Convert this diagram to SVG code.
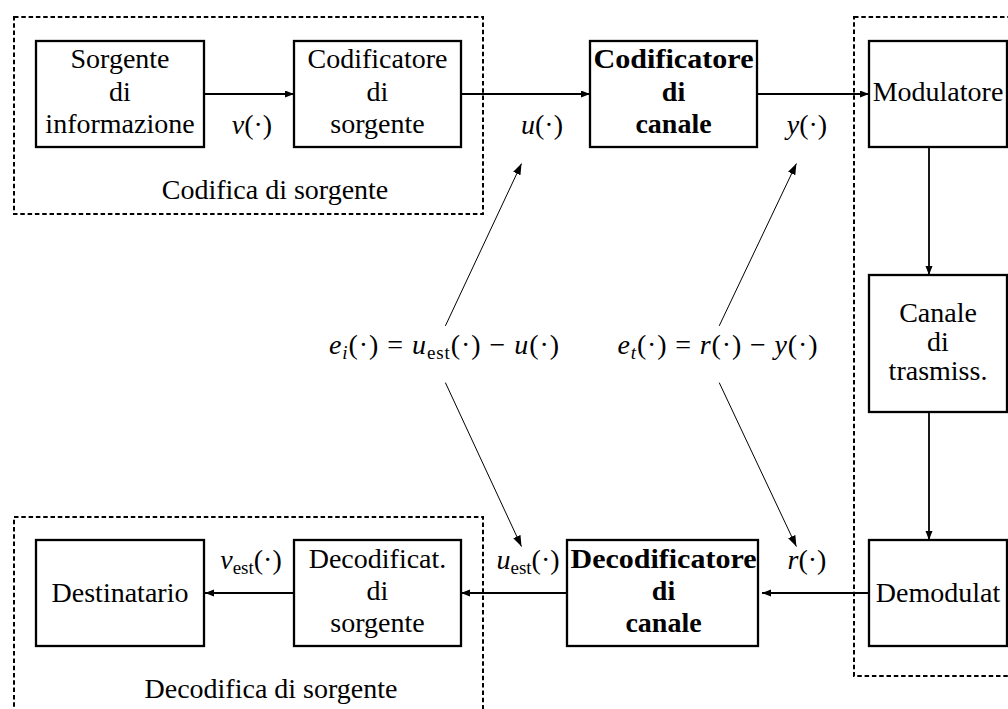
<svg xmlns="http://www.w3.org/2000/svg" width="1008" height="709" viewBox="0 0 1008 709">
<style>
text{font-family:'Liberation Serif','DejaVu Serif',serif;font-size:28px;fill:#000;text-anchor:middle}
.b{font-weight:bold}
.m{font-style:italic}
.box{fill:#fff;stroke:#000;stroke-width:2.3}
.dash{fill:none;stroke:#000;stroke-width:2;stroke-dasharray:4.5,2.8}
.c{fill:none;stroke:#000;stroke-width:1.8}
.d{fill:none;stroke:#000;stroke-width:1}
</style>
<defs>
<marker id="ah" markerUnits="userSpaceOnUse" markerWidth="10" markerHeight="8" refX="9" refY="3.5" orient="auto"><path d="M0,0 L9,3.5 L0,7 z" fill="#000"/></marker>
<marker id="ad" markerUnits="userSpaceOnUse" markerWidth="12" markerHeight="9" refX="11" refY="4" orient="auto"><path d="M0,0 L11,4 L0,8 z" fill="#000"/></marker>
</defs>
<g id="groups">
<rect class="dash" x="14" y="17" width="469" height="197"/>
<text x="275" y="199">Codifica di sorgente</text>
<rect class="dash" x="854" y="17" width="200" height="659"/>
<rect class="dash" x="14" y="517" width="469" height="250"/>
<text x="271" y="698">Decodifica di sorgente</text>
</g>
<g id="connectors">
<path class="c" d="M204,94 H294" marker-end="url(#ah)"/>
<path class="c" d="M461,94 H590" marker-end="url(#ah)"/>
<path class="c" d="M757,94 H869" marker-end="url(#ah)"/>
<path class="c" d="M929,147 V275" marker-end="url(#ah)"/>
<path class="c" d="M929,412 V540" marker-end="url(#ah)"/>
<path class="c" d="M869,593 H762" marker-end="url(#ah)"/>
<path class="c" d="M567,593 H461" marker-end="url(#ah)"/>
<path class="c" d="M294,593 H205" marker-end="url(#ah)"/>
<path class="d" d="M445.4,325.9 L521.5,163.6" marker-end="url(#ad)"/>
<path class="d" d="M445.4,382.6 L521.5,546.6" marker-end="url(#ad)"/>
<path class="d" d="M719.2,325.9 L796.4,163.6" marker-end="url(#ad)"/>
<path class="d" d="M719.2,382.6 L796.4,546.6" marker-end="url(#ad)"/>
</g>
<g id="sorgente">
<rect class="box" x="36" y="41" width="168" height="106"/>
<text x="120" y="68">Sorgente</text>
<text x="120" y="101">di</text>
<text x="120" y="133">informazione</text>
</g>
<g id="cod-sorgente">
<rect class="box" x="294" y="41" width="167" height="106"/>
<text x="377.5" y="68">Codificatore</text>
<text x="377.5" y="101">di</text>
<text x="377.5" y="133">sorgente</text>
</g>
<g id="cod-canale">
<rect class="box" x="590" y="41" width="167" height="106"/>
<text class="b" x="673.5" y="68" textLength="160" lengthAdjust="spacingAndGlyphs">Codificatore</text>
<text class="b" x="673.5" y="101">di</text>
<text class="b" x="673.5" y="133">canale</text>
</g>
<g id="modulatore">
<rect class="box" x="869" y="41" width="138" height="106"/>
<text x="938" y="101">Modulatore</text>
</g>
<g id="canale">
<rect class="box" x="869" y="275" width="138" height="137"/>
<text x="938" y="322">Canale</text>
<text x="938" y="351">di</text>
<text x="938" y="380">trasmiss.</text>
</g>
<g id="demodulat">
<rect class="box" x="869" y="540" width="138" height="106"/>
<text x="938" y="602">Demodulat</text>
</g>
<g id="decod-canale">
<rect class="box" x="567" y="540" width="191" height="106"/>
<text class="b" x="663.5" y="568" textLength="186" lengthAdjust="spacingAndGlyphs">Decodificatore</text>
<text class="b" x="663.5" y="600">di</text>
<text class="b" x="663.5" y="632">canale</text>
</g>
<g id="decod-sorgente">
<rect class="box" x="294" y="540" width="167" height="106"/>
<text x="377.5" y="568">Decodificat.</text>
<text x="377.5" y="600">di</text>
<text x="377.5" y="632">sorgente</text>
</g>
<g id="destinatario">
<rect class="box" x="36" y="540" width="168" height="106"/>
<text x="120" y="602">Destinatario</text>
</g>
<g id="labels">
<text x="252" y="134"><tspan class="m">v</tspan>(·)</text>
<text x="542" y="134"><tspan class="m">u</tspan>(·)</text>
<text x="807" y="134"><tspan class="m">y</tspan>(·)</text>
<text x="251" y="569"><tspan class="m">v</tspan><tspan font-size="19" dy="5">est</tspan><tspan dy="-5">(·)</tspan></text>
<text x="528" y="569"><tspan class="m">u</tspan><tspan font-size="19" dy="5">est</tspan><tspan dy="-5">(·)</tspan></text>
<text x="807" y="569"><tspan class="m">r</tspan>(·)</text>
<text x="444" y="354" textLength="230" lengthAdjust="spacing"><tspan class="m">e</tspan><tspan class="m" font-size="19" dy="5">i</tspan><tspan dy="-5">(·) = </tspan><tspan class="m">u</tspan><tspan font-size="19" dy="5">est</tspan><tspan dy="-5">(·) − </tspan><tspan class="m">u</tspan>(·)</text>
<text x="717.5" y="354" textLength="200" lengthAdjust="spacing"><tspan class="m">e</tspan><tspan class="m" font-size="19" dy="5">t</tspan><tspan dy="-5">(·) = </tspan><tspan class="m">r</tspan>(·) − <tspan class="m">y</tspan>(·)</text>
</g>
</svg>
